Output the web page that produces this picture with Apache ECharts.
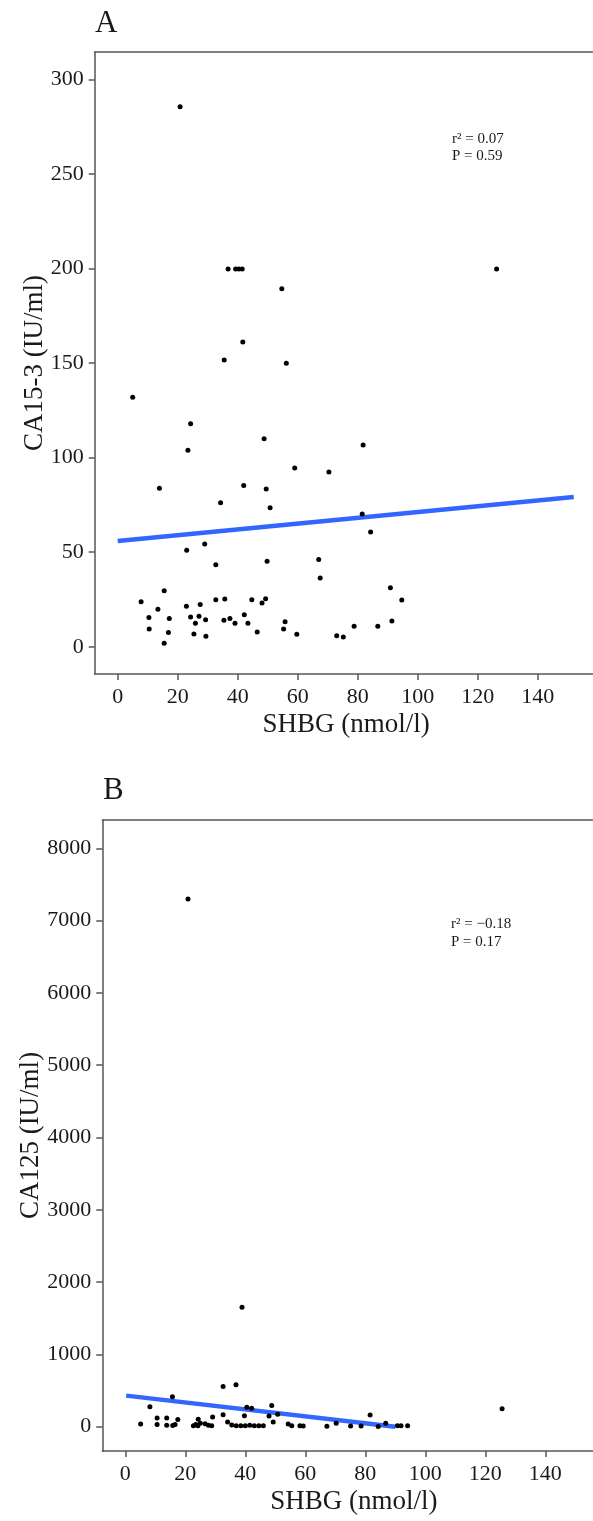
<!DOCTYPE html>
<html>
  <head>
    <title></title>
    <meta charset="UTF-8" />
    <script src="https://cdn.jsdelivr.net/npm/echarts@6/dist/echarts.min.js"></script>
  </head>
  <body style="margin:0">
    <div id="main"></div>
    <script>
      const width = 593;
      const height = 1521;
      const main = document.getElementById('main');
      main.style.width = `${width}px`;
      main.style.height = `${height}px`;

      // panel A: SHBG vs CA15-3
      const shbgA = [20.8, 36.8, 39.3, 40.4, 41.5, 54.7, 41.7, 35.5, 56.2, 5.0, 24.3, 23.4, 48.8, 59, 70.4,
        13.9, 42, 49.5, 50.8, 34.3, 29, 23, 32.7, 49.8, 67, 67.5, 15.5, 7.8, 10.4, 10.5, 13.4, 17.2, 16.9,
        15.5, 22.9, 24.3, 25.9, 25.4, 27.5, 27.1, 29.3, 29.4, 32.7, 35.7, 35.4, 37.4, 39.1, 42.2, 43.4,
        44.7, 46.5, 48.1, 49.3, 55.8, 55.3, 59.7, 73, 75.2, 78.8, 81.8, 81.5, 84.3, 90.9, 94.7, 86.7, 91.4, 126.3];
      const ca153 = [285.6, 199.7, 199.7, 199.7, 199.7, 189.3, 161.1, 151.6, 149.9, 131.9, 117.9, 103.9, 110, 94.5, 92.4,
        83.8, 85.3, 83.4, 73.5, 76.2, 54.3, 51.1, 43.4, 45.2, 46.2, 36.3, 29.6, 23.8, 15.5, 9.4, 19.8, 15, 7.6,
        1.8, 21.4, 15.7, 12.4, 6.7, 22.4, 16.2, 14.3, 5.5, 24.9, 25.2, 14, 15, 12.5, 16.9, 12.5,
        24.9, 7.8, 23.1, 25.4, 13.2, 9.4, 6.6, 5.8, 5.1, 10.9, 106.7, 70.2, 60.7, 31.2, 24.7, 10.9, 13.6, 199.7];
      const fitAx = [0, 152];
      const fitAy = [55.9, 79.2];

      // panel B: SHBG vs CA125
      const shbgB = [20.9, 38.9, 32.6, 36.9, 15.7, 8.2, 5.1, 10.6, 10.6, 13.8, 13.8, 15.8, 16.6, 17.5, 22.7,
        23.5, 24.2, 25, 24.3, 26.6, 27.7, 28.8, 29.1, 32.6, 34.1, 35.5, 37, 38.5, 39.7, 40, 41.5, 43, 44.5,
        46, 40.5, 42.1, 47.9, 48.8, 49.3, 50.8, 54.3, 55.5, 58.2, 59.3, 67.2, 70.3, 75.1, 78.6, 81.6, 84.3,
        86.8, 90.7, 91.9, 94.1, 125.6];
      const ca125 = [7300, 1651, 556, 579, 413, 277, 37, 120, 30, 120, 20, 15, 30, 100, 14,
        30, 14, 47, 102, 40, 20, 14, 134, 164, 65, 25, 14, 14, 150, 14, 20, 14, 14,
        14, 268, 254, 148, 293, 65, 171, 37, 14, 14, 10, 8, 47, 10, 10, 162, 3,
        47, 14, 14, 14, 249];
      const fitBx = [0.3, 90];
      const fitBy = [430, 0];

      const xTicks = [0, 20, 40, 60, 80, 100, 120, 140];
      const yTicksA = [0, 50, 100, 150, 200, 250, 300];
      const yTicksB = [0, 1000, 2000, 3000, 4000, 5000, 6000, 7000, 8000];

      const FONT = "'Liberation Serif', 'Times New Roman', serif";
      const axisColor = '#555';
      const textColor = '#1a1a1a';

      const zip = (xs, ys) => xs.map((x, i) => [x, ys[i]]);

      function valueAxis(gridIndex, min, max, ticks, name, nameGap, isY) {
        return {
          type: 'value',
          gridIndex,
          min,
          max,
          name,
          nameLocation: 'middle',
          nameGap,
          nameRotate: isY ? 90 : 0,
          nameMoveOverlap: false,
          nameTextStyle: { fontFamily: FONT, fontSize: 27, color: textColor },
          axisLine: { show: true, onZero: false, lineStyle: { color: axisColor, width: 1.5 } },
          axisTick: { show: true, length: 6, customValues: ticks, lineStyle: { color: axisColor, width: 1.5 } },
          axisLabel: {
            customValues: ticks,
            formatter: (v) => String(v),
            fontFamily: FONT,
            fontSize: 22,
            color: textColor,
            margin: isY ? 11 : 12,
          },
          splitLine: { show: false },
        };
      }

      function borderAxis(gridIndex) {
        return {
          type: 'value',
          gridIndex,
          position: 'top',
          min: 0,
          max: 1,
          axisLine: { show: true, onZero: false, lineStyle: { color: axisColor, width: 1.5 } },
          axisTick: { show: false },
          axisLabel: { show: false },
          splitLine: { show: false },
        };
      }

      const myChart = echarts.init(main);
      const option = {
        animation: false,
        backgroundColor: '#fff',
        grid: [
          { left: 94.7, top: 52, width: 503, height: 622, outerBoundsMode: 'none' },
          { left: 102.3, top: 820, width: 503, height: 631, outerBoundsMode: 'none' },
        ],
        xAxis: [
          valueAxis(0, -7.67, 160, xTicks, 'SHBG (nmol/l)', 37, false),
          valueAxis(1, -7.67, 160, xTicks, 'SHBG (nmol/l)', 37, false),
          borderAxis(0),
          borderAxis(1),
        ],
        yAxis: [
          valueAxis(0, -14.4, 314.5, yTicksA, 'CA15-3 (IU/ml)', 46, true),
          valueAxis(1, -336, 8391, yTicksB, 'CA125 (IU/ml)', 58, true),
        ],
        series: [
          {
            type: 'line',
            xAxisIndex: 0,
            yAxisIndex: 0,
            data: zip(fitAx, fitAy),
            showSymbol: false,
            lineStyle: { color: '#3366FF', width: 4.5 },
            z: 1,
          },
          {
            type: 'scatter',
            xAxisIndex: 0,
            yAxisIndex: 0,
            data: zip(shbgA, ca153),
            symbolSize: 5,
            itemStyle: { color: '#000', opacity: 1 },
            z: 2,
          },
          {
            type: 'line',
            xAxisIndex: 1,
            yAxisIndex: 1,
            data: zip(fitBx, fitBy),
            showSymbol: false,
            lineStyle: { color: '#3366FF', width: 4.5 },
            z: 1,
          },
          {
            type: 'scatter',
            xAxisIndex: 1,
            yAxisIndex: 1,
            data: zip(shbgB, ca125),
            symbolSize: 5,
            itemStyle: { color: '#000', opacity: 1 },
            z: 2,
          },
        ],
        graphic: [
          { type: 'text', left: 95, top: 8, style: { text: 'A', fontFamily: FONT, fontSize: 31, fill: textColor } },
          { type: 'text', left: 103, top: 775, style: { text: 'B', fontFamily: FONT, fontSize: 31, fill: textColor } },
          { type: 'text', left: 452, top: 131, style: { text: 'r² = 0.07\nP = 0.59', fontFamily: FONT, fontSize: 15, lineHeight: 17, fill: textColor } },
          { type: 'text', left: 451, top: 915, style: { text: 'r² = \u22120.18\nP = 0.17', fontFamily: FONT, fontSize: 15, lineHeight: 18, fill: textColor } },
        ],
      };
      myChart.setOption(option);
    </script>
  </body>
</html>
